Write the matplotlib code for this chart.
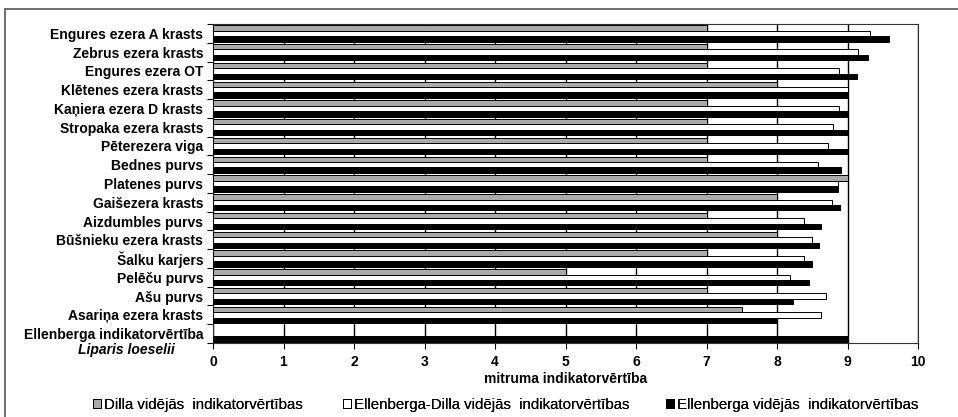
import numpy as np
import matplotlib
matplotlib.use('Agg')
import matplotlib.pyplot as plt
from matplotlib.patches import Patch, Rectangle

plt.rcParams['font.family'] = ['Liberation Sans', 'DejaVu Sans']

# data (top to bottom)
sites = ['Engures ezera A krasts', 'Zebrus ezera krasts', 'Engures ezera OT',
         'Klētenes ezera krasts', 'Kaņiera ezera D krasts', 'Stropaka ezera krasts',
         'Pēterezera viga', 'Bednes purvs', 'Platenes purvs', 'Gaišezera krasts',
         'Aizdumbles purvs', 'Būšnieku ezera krasts', 'Šalku karjers', 'Pelēču purvs',
         'Ašu purvs', 'Asariņa ezera krasts', 'Ellenberga indikatorvērtība']
dilla = [7, 7, 7, 8, 7, 7, 7, 7, 9, 8, 7, 8, 7, 5, 7, 7.5, np.nan]
ell_dilla = [9.32, 9.15, 8.88, 9.0, 8.88, 8.8, 8.73, 8.58, 8.87, 8.78, 8.38, 8.5,
             8.38, 8.18, 8.7, 8.63, np.nan]
ellenberg = [9.59, 9.29, 9.14, 9.0, 9.0, 9.0, 9.0, 8.91, 8.86, 8.89, 8.63, 8.6,
             8.5, 8.45, 8.22, 8.0, 9.0]
series_names = ['Dilla vidējās  indikatorvērtības',
                'Ellenberga-Dilla vidējās  indikatorvērtības',
                'Ellenberga vidējās  indikatorvērtības']
series_colors = ['#aaaaaa', 'white', 'black']

W, H = 958, 417
fig = plt.figure(figsize=(W / 100, H / 100), dpi=100)
ax = fig.add_axes([213 / W, 1 - 343 / H, (918 - 213) / W, (343 - 24) / H])

y = np.arange(len(sites))
bh = 0.29
for k, (vals, col) in enumerate(zip([dilla, ell_dilla, ellenberg], series_colors)):
    vals = np.array(vals, dtype=float)
    ok = ~np.isnan(vals)
    ax.barh(y[ok] + (k - 1) * bh, vals[ok], height=bh, color=col,
            edgecolor='black', linewidth=0.7, zorder=3)

ax.set_xlim(0, 10)
ax.set_ylim(len(sites) - 0.5, -0.5)
ax.set_xticks(range(11))
ax.set_xticklabels([str(i) for i in range(11)], fontsize=10, fontweight='bold')
ax.set_yticks(y)
ax.set_yticklabels(sites, fontsize=10, fontweight='bold')
ax.set_yticks(np.arange(len(sites) + 1) - 0.5, minor=True)
ax.tick_params(axis='y', which='major', length=0, pad=7)
ax.tick_params(axis='y', which='minor', length=4, width=0.8, direction='out')
ax.tick_params(axis='x', length=4, width=0.8, direction='out', pad=5)
ax.xaxis.grid(True, color='black', linewidth=1.0, zorder=0)
ax.set_axisbelow(True)
for s in ax.spines.values():
    s.set_linewidth(0.8)
    s.set_color('#333333')

ax.set_xlabel('mitruma indikatorvērtība', fontsize=10, fontweight='bold', labelpad=2)
fig.text(126 / W, 1 - 350 / H, 'Liparis loeselii', fontsize=10, fontweight='bold',
         style='italic', ha='center', va='center')

# legend entries placed one by one, like the uneven spacing in the original
leg_x = [93, 343, 666]
for name, col, lx in zip(series_names, series_colors, leg_x):
    h = Patch(facecolor=col, edgecolor='black', linewidth=0.7)
    lg = fig.legend([h], [name], loc='center left', bbox_to_anchor=(lx / W, 1 - 405 / H),
                    frameon=False, fontsize=10.8, handlelength=0.5, handleheight=0.5,
                    handletextpad=0.25, borderaxespad=0, borderpad=0)
    fig.add_artist(lg)

fig.patches.append(Rectangle((5 / W, -0.1), 1.2, 1 - 9 / H + 0.1, transform=fig.transFigure,
                             fill=False, edgecolor='#555555', linewidth=1.2))

fig.savefig('out.png', dpi=100)
